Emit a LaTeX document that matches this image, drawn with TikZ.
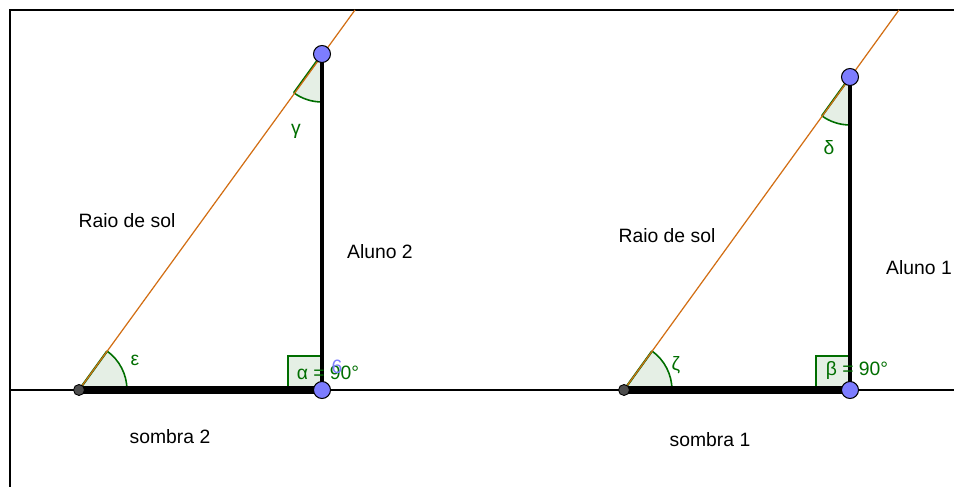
\documentclass[tikz,border=0pt]{standalone}
\usepackage{fontspec}
\setmainfont{Liberation Sans}
\usetikzlibrary{angles}

\definecolor{raio}{RGB}{210,110,20}
\definecolor{angverde}{RGB}{0,110,0}
\definecolor{angfundo}{RGB}{229,239,229}
\definecolor{azul}{RGB}{125,125,255}
\definecolor{cinza}{RGB}{77,77,77}

\tikzset{
    pontoazul/.style={circle,draw=black,fill=azul,line width=0.6pt,minimum size=0.34cm,inner sep=0pt},
    pontocinza/.style={circle,draw=black,fill=cinza,line width=0.5pt,minimum size=0.22cm,inner sep=0pt},
    angulo/.style={draw=angverde,fill=angfundo,line width=0.9pt,angle radius=0.96cm},
    verde/.style={text=angverde}
}

\begin{document}
\begin{tikzpicture}[x=0.02cm,y=0.02cm,font=\fontsize{11}{13}\selectfont]
    \useasboundingbox (0,0) rectangle (954,487);

    % moldura e chao
    \coordinate (m1) at (10,0);
    \coordinate (m2) at (10,477);
    \coordinate (m3) at (954,477);
    \coordinate (c1) at (10,97);
    \coordinate (c2) at (954,97);
    \draw[line width=0.7pt] (m1) -- (m2) -- (m3);
    \draw[line width=0.7pt] (c1) -- (c2);

    % triangulo do aluno 2
    \coordinate (b2) at (79,97);
    \coordinate (f2) at (322,97);
    \coordinate (t2) at (322,433);
    \coordinate (r2) at (355,477);

    % triangulo do aluno 1
    \coordinate (b1) at (624,97);
    \coordinate (f1) at (850,97);
    \coordinate (t1) at (850,410);
    \coordinate (r1) at (899,477);

    \pic[angulo] {angle = f2--b2--t2};
    \pic[angulo] {angle = b2--t2--f2};
    \pic[angulo] {angle = f1--b1--t1};
    \pic[angulo] {angle = b1--t1--f1};
    \draw[angverde,line width=1.2pt] (b2) -- ++(54.1:48);
    \draw[angverde,line width=1.2pt] (t2) -- ++(234.1:48);
    \draw[angverde,line width=1.2pt] (b1) -- ++(54.2:48);
    \draw[angverde,line width=1.2pt] (t1) -- ++(234.2:48);
    \draw[angverde,fill=angfundo,line width=0.6pt] (f2) rectangle ++(-34,34);
    \draw[angverde,fill=angfundo,line width=0.6pt] (f1) rectangle ++(-34,34);

    \draw[raio,line width=0.7pt] (b2) -- (r2);
    \draw[raio,line width=0.7pt] (b1) -- (r1);

    \draw[line width=5pt] (b2) -- (f2);
    \draw[line width=5pt] (b1) -- (f1);
    \draw[line width=2.3pt] (f2) -- (t2);
    \draw[line width=2.3pt] (f1) -- (t1);

    \node[pontocinza] (p1) at (b2) {};
    \node[pontoazul] (p2) at (f2) {};
    \node[pontoazul] (p3) at (t2) {};
    \node[pontocinza] (p4) at (b1) {};
    \node[pontoazul] (p5) at (f1) {};
    \node[pontoazul] (p6) at (t1) {};

    % textos
    \node (raio2) at (127,266) {Raio de sol};
    \node (aluno2) at (380,235) {Aluno 2};
    \node (sombra2) at (170,50) {sombra 2};
    \node (raio1) at (667,251) {Raio de sol};
    \node (aluno1) at (919,219) {Aluno 1};
    \node (sombra1) at (710,47) {sombra 1};

    \node[verde] (eps) at (135,127) {ε};
    \node[verde] (gam) at (296,356) {γ};
    \node[verde] (zet) at (676,122) {ζ};
    \node[verde] (del) at (829,339) {δ};
    \node[verde] (alf) at (328,114) {α = 90°};
    \node[verde] (bet) at (857,116) {β = 90°};
    \node[text=azul] (seis) at (337,120) {6};
\end{tikzpicture}
\end{document}
